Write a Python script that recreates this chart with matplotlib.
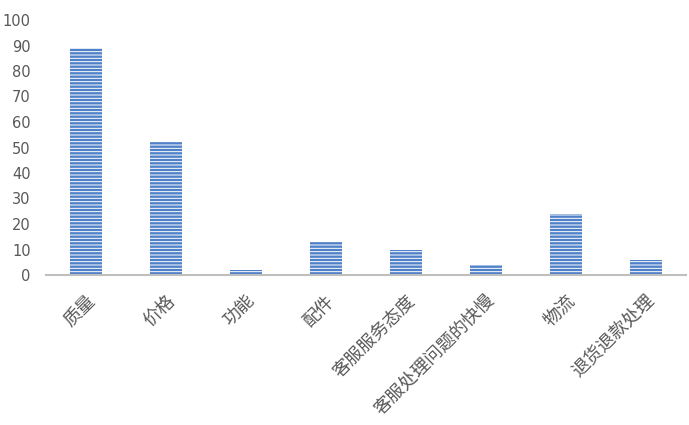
import matplotlib.pyplot as plt
import numpy as np

plt.rcParams['font.family'] = ['Noto Sans CJK SC', 'DejaVu Sans']
plt.rcParams['hatch.linewidth'] = 0.7

categories = ['质量', '价格', '功能', '配件', '客服服务态度', '客服处理问题的快慢', '物流', '退货退款处理']
values = [89, 52, 2, 13, 10, 4, 24, 6]
yticks = [0, 10, 20, 30, 40, 50, 60, 70, 80, 90, 100]

fig = plt.figure(figsize=(6.89, 4.25), dpi=100)
ax = fig.add_axes([46 / 689, 1 - 275 / 425, 640 / 689, 255 / 425])

x = np.arange(len(categories))
ax.bar(x, values, width=0.39, color='#4f80c8', edgecolor='white', linewidth=0, hatch='-----')

ax.set_xlim(-0.5, len(categories) - 0.5)
ax.set_ylim(0, 100)
ax.set_yticks(yticks)
ax.set_yticklabels([str(v) for v in yticks], family='DejaVu Sans')
ax.set_xticks(x)
ax.set_xticklabels(categories, rotation=45, ha='right', va='top', rotation_mode='anchor',
                   fontsize=13, color='#595959')
ax.tick_params(axis='y', length=0, labelsize=10.5, labelcolor='#595959', pad=11)
ax.tick_params(axis='x', length=0, pad=12)
for s in ['top', 'right', 'left']:
    ax.spines[s].set_visible(False)
ax.spines['bottom'].set_color('#bfbfbf')
ax.spines['bottom'].set_linewidth(1.5)

plt.savefig('out.png', dpi=100)
